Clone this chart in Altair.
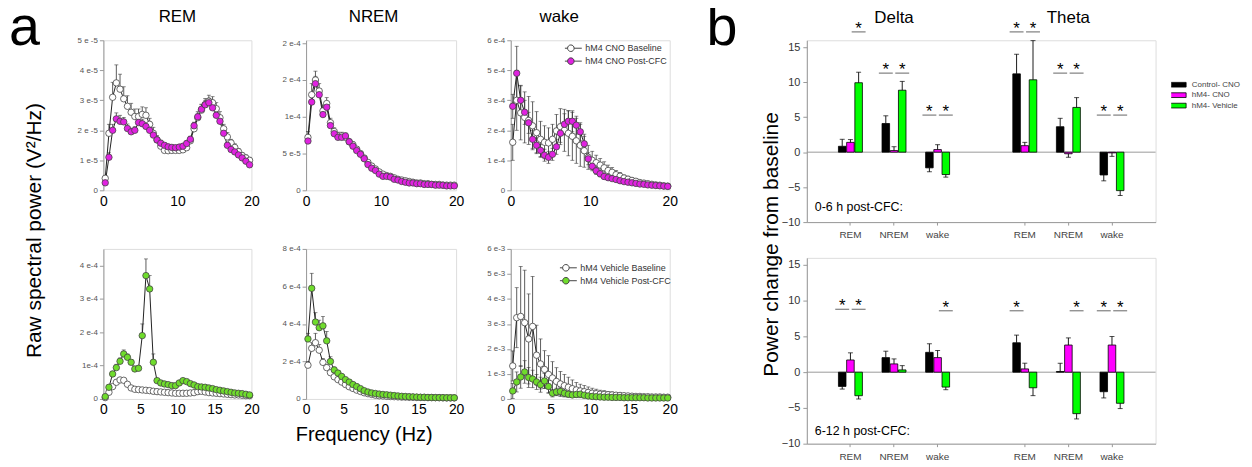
import altair as alt
import pandas as pd

FONT = "Liberation Sans"

# ---------------- panel a : spectra ----------------
FREQ = [0.25, 0.75, 1.25, 1.75, 2.25, 2.75, 3.25, 3.75, 4.25, 4.75,
        5.25, 5.75, 6.25, 6.75, 7.25, 7.75, 8.25, 8.75, 9.25, 9.75,
        10.25, 10.75, 11.25, 11.75, 12.25, 12.75, 13.25, 13.75, 14.25, 14.75,
        15.25, 15.75, 16.25, 16.75, 17.25, 17.75, 18.25, 18.75, 19.25, 19.75]

CNO_NAMES = ["hM4 CNO Baseline", "hM4 CNO Post-CFC"]
VEH_NAMES = ["hM4 Vehicle Baseline", "hM4 Vehicle Post-CFC"]

# REM, CNO (units of 1e-5 V^2/Hz)
REM_CNO_BASE = [0.4, 1.9, 3.1, 3.58, 3.37, 3.05, 2.8, 2.6, 2.46, 2.46, 2.53, 2.5, 2.2, 1.9, 1.68, 1.47, 1.33, 1.32, 1.33, 1.33,
                1.33, 1.35, 1.42, 1.65, 2.05, 2.42, 2.67, 2.86, 2.97, 2.92, 2.72, 2.42, 2.05, 1.78, 1.58, 1.43, 1.29, 1.16, 1.08, 1.0]
REM_CNO_BASE_ERR = [0.1, 0.3, 0.5, 0.6, 0.5, 0.4, 0.35, 0.3, 0.25, 0.25, 0.25, 0.25, 0.2, 0.2, 0.15, 0.15, 0.12, 0.12, 0.12, 0.12,
                    0.12, 0.12, 0.15, 0.15, 0.2, 0.2, 0.2, 0.2, 0.2, 0.2, 0.2, 0.2, 0.15, 0.15, 0.12, 0.12, 0.1, 0.1, 0.1, 0.1]
REM_CNO_POST = [0.25, 1.1, 2.0, 2.38, 2.3, 2.28, 2.06, 1.95, 2.0, 2.26, 2.22, 2.13, 2.0, 1.84, 1.68, 1.57, 1.5, 1.45, 1.43, 1.42,
                1.44, 1.47, 1.56, 1.7, 2.15, 2.45, 2.7, 2.85, 2.92, 2.75, 2.5, 2.3, 1.9, 1.5, 1.36, 1.28, 1.18, 1.08, 0.97, 0.85]
REM_CNO_POST_ERR = [0.05, 0.15, 0.2, 0.2, 0.2, 0.15, 0.15, 0.12, 0.12, 0.15, 0.15, 0.12, 0.12, 0.1, 0.1, 0.1, 0.08, 0.08, 0.08, 0.08,
                    0.08, 0.08, 0.1, 0.1, 0.12, 0.12, 0.15, 0.15, 0.15, 0.15, 0.12, 0.12, 0.1, 0.1, 0.08, 0.08, 0.08, 0.06, 0.06, 0.06]

# NREM, CNO (units of 1e-4)
NREM_CNO_BASE = [0.72, 1.3, 1.5, 1.35, 1.08, 1.18, 0.92, 0.8, 0.74, 0.74, 0.72, 0.66, 0.62, 0.56, 0.5, 0.44, 0.38, 0.33, 0.29, 0.25,
                 0.22, 0.2, 0.19, 0.17, 0.15, 0.14, 0.13, 0.12, 0.11, 0.1, 0.1, 0.09, 0.09, 0.08, 0.08, 0.08, 0.07, 0.07, 0.07, 0.07]
NREM_CNO_BASE_ERR = [0.08, 0.15, 0.12, 0.1, 0.08, 0.08, 0.06, 0.05, 0.05, 0.05, 0.04, 0.04, 0.04, 0.03, 0.03, 0.03, 0.02, 0.02, 0.02, 0.02,
                     0.02, 0.02, 0.015, 0.015, 0.015, 0.01, 0.01, 0.01, 0.01, 0.01, 0.01, 0.01, 0.01, 0.01, 0.01, 0.01, 0.01, 0.01, 0.01, 0.01]
NREM_CNO_POST = [0.67, 1.2, 1.45, 1.3, 1.03, 1.13, 0.88, 0.77, 0.72, 0.72, 0.74, 0.66, 0.6, 0.54, 0.49, 0.43, 0.35, 0.3, 0.27, 0.22,
                 0.19, 0.19, 0.18, 0.15, 0.14, 0.12, 0.11, 0.1, 0.1, 0.09, 0.09, 0.08, 0.08, 0.08, 0.07, 0.07, 0.07, 0.06, 0.06, 0.06]
NREM_CNO_POST_ERR = [0.05, 0.1, 0.1, 0.08, 0.06, 0.06, 0.05, 0.04, 0.04, 0.04, 0.04, 0.03, 0.03, 0.03, 0.02, 0.02, 0.02, 0.02, 0.02, 0.02,
                     0.015, 0.015, 0.015, 0.01, 0.01, 0.01, 0.01, 0.01, 0.01, 0.01, 0.01, 0.01, 0.01, 0.01, 0.01, 0.01, 0.01, 0.01, 0.01, 0.01]

# wake, CNO (in axis-tick units, ticks labelled 0, 1e-4, 2e-4, 3e-4, 5e-4, 6e-4)
WAKE_CNO_BASE = [1.6, 3.0, 2.58, 2.43, 2.33, 2.15, 1.92, 1.7, 1.6, 1.58, 1.7, 1.98, 2.12, 2.0, 1.9, 1.8, 1.65, 1.5, 1.32, 1.1,
                 1.0, 0.92, 0.84, 0.75, 0.66, 0.6, 0.52, 0.47, 0.41, 0.37, 0.33, 0.3, 0.26, 0.24, 0.22, 0.2, 0.18, 0.17, 0.15, 0.14]
WAKE_CNO_BASE_ERR = [0.6, 1.0, 0.9, 0.85, 0.8, 0.8, 0.7, 0.6, 0.55, 0.5, 0.5, 0.55, 0.6, 0.7, 0.75, 0.8, 0.75, 0.7, 0.55, 0.4,
                     0.3, 0.25, 0.22, 0.2, 0.18, 0.16, 0.14, 0.12, 0.1, 0.1, 0.09, 0.08, 0.07, 0.06, 0.06, 0.05, 0.05, 0.05, 0.04, 0.04]
WAKE_CNO_POST = [2.8, 3.9, 3.0, 2.6, 2.25, 1.7, 1.5, 1.33, 1.17, 1.1, 1.2, 1.45, 1.9, 2.2, 2.3, 2.3, 2.17, 1.95, 1.55, 1.05,
                 0.8, 0.65, 0.55, 0.46, 0.42, 0.39, 0.36, 0.32, 0.29, 0.27, 0.25, 0.23, 0.21, 0.2, 0.18, 0.17, 0.16, 0.15, 0.14, 0.13]
WAKE_CNO_POST_ERR = [0.4, 0.9, 0.5, 0.4, 0.35, 0.3, 0.25, 0.2, 0.2, 0.2, 0.2, 0.25, 0.3, 0.35, 0.35, 0.35, 0.3, 0.3, 0.25, 0.2,
                     0.15, 0.12, 0.1, 0.08, 0.07, 0.06, 0.06, 0.05, 0.05, 0.04, 0.04, 0.04, 0.03, 0.03, 0.03, 0.03, 0.03, 0.02, 0.02, 0.02]

# REM, Vehicle (units of 1e-4)
REM_VEH_BASE = [0.04, 0.2, 0.37, 0.5, 0.57, 0.56, 0.44, 0.33, 0.29, 0.28, 0.27, 0.26, 0.25, 0.23, 0.22, 0.21, 0.2, 0.19, 0.18, 0.17,
                0.17, 0.17, 0.17, 0.18, 0.19, 0.22, 0.23, 0.21, 0.19, 0.18, 0.17, 0.16, 0.15, 0.14, 0.13, 0.12, 0.12, 0.11, 0.1, 0.1]
REM_VEH_BASE_ERR = [0.01, 0.03, 0.05, 0.06, 0.06, 0.05, 0.04, 0.03, 0.03, 0.03, 0.03, 0.03, 0.02, 0.02, 0.02, 0.02, 0.02, 0.02, 0.02, 0.02,
                    0.02, 0.02, 0.02, 0.02, 0.02, 0.02, 0.02, 0.02, 0.02, 0.02, 0.02, 0.02, 0.01, 0.01, 0.01, 0.01, 0.01, 0.01, 0.01, 0.01]
REM_VEH_POST = [0.07, 0.35, 0.75, 0.94, 1.13, 1.35, 1.25, 1.1, 0.9, 0.92, 1.9, 3.7, 3.3, 1.1, 0.55, 0.48, 0.45, 0.43, 0.4, 0.4,
                0.48, 0.55, 0.52, 0.46, 0.42, 0.37, 0.36, 0.35, 0.33, 0.31, 0.28, 0.26, 0.24, 0.22, 0.2, 0.18, 0.17, 0.16, 0.14, 0.12]
REM_VEH_POST_ERR = [0.02, 0.05, 0.08, 0.1, 0.1, 0.12, 0.1, 0.08, 0.07, 0.08, 0.35, 0.5, 0.4, 0.25, 0.06, 0.05, 0.05, 0.04, 0.04, 0.04,
                    0.05, 0.05, 0.05, 0.04, 0.04, 0.04, 0.04, 0.03, 0.03, 0.03, 0.03, 0.03, 0.02, 0.02, 0.02, 0.02, 0.02, 0.02, 0.02, 0.02]

# NREM, Vehicle (units of 1e-4)
NREM_VEH_BASE = [1.8, 2.7, 3.0, 2.6, 1.95, 1.67, 1.4, 1.18, 1.03, 0.9, 0.77, 0.65, 0.56, 0.47, 0.4, 0.33, 0.28, 0.24, 0.2, 0.17,
                 0.16, 0.14, 0.13, 0.12, 0.11, 0.1, 0.1, 0.09, 0.09, 0.08, 0.08, 0.08, 0.07, 0.07, 0.07, 0.07, 0.06, 0.06, 0.06, 0.06]
NREM_VEH_BASE_ERR = [0.2, 0.3, 0.5, 0.3, 0.2, 0.15, 0.12, 0.1, 0.1, 0.08, 0.07, 0.06, 0.05, 0.05, 0.04, 0.04, 0.03, 0.03, 0.03, 0.02,
                     0.02, 0.02, 0.02, 0.02, 0.02, 0.02, 0.02, 0.02, 0.02, 0.02, 0.02, 0.02, 0.02, 0.02, 0.02, 0.02, 0.02, 0.02, 0.02, 0.02]
NREM_VEH_POST = [3.2, 5.9, 4.1, 3.8, 3.9, 3.1, 2.0, 1.55, 1.38, 1.2, 1.03, 0.9, 0.77, 0.66, 0.55, 0.44, 0.37, 0.32, 0.29, 0.26,
                 0.24, 0.22, 0.2, 0.18, 0.16, 0.14, 0.13, 0.12, 0.11, 0.1, 0.09, 0.09, 0.08, 0.08, 0.07, 0.07, 0.07, 0.06, 0.06, 0.06]
NREM_VEH_POST_ERR = [0.3, 0.8, 0.5, 0.4, 0.5, 0.5, 0.25, 0.15, 0.12, 0.1, 0.08, 0.07, 0.06, 0.05, 0.05, 0.04, 0.04, 0.03, 0.03, 0.03,
                     0.03, 0.03, 0.02, 0.02, 0.02, 0.02, 0.02, 0.02, 0.02, 0.02, 0.02, 0.02, 0.02, 0.02, 0.02, 0.02, 0.02, 0.02, 0.02, 0.02]

# wake, Vehicle (units of 1e-3)
WAKE_VEH_BASE = [1.32, 3.25, 3.3, 3.05, 2.4, 2.9, 1.75, 1.4, 1.18, 0.98, 0.84, 0.7, 0.6, 0.53, 0.47, 0.41, 0.36, 0.32, 0.29, 0.26,
                 0.23, 0.21, 0.19, 0.18, 0.17, 0.16, 0.15, 0.14, 0.13, 0.12, 0.11, 0.1, 0.1, 0.09, 0.09, 0.08, 0.08, 0.08, 0.07, 0.07]
WAKE_VEH_BASE_ERR = [0.6, 1.2, 2.0, 2.1, 1.8, 2.0, 1.2, 1.0, 0.75, 0.75, 0.65, 0.55, 0.5, 0.45, 0.4, 0.35, 0.3, 0.27, 0.25, 0.22,
                     0.2, 0.18, 0.16, 0.15, 0.13, 0.12, 0.1, 0.1, 0.09, 0.08, 0.08, 0.07, 0.07, 0.06, 0.06, 0.05, 0.05, 0.05, 0.05, 0.05]
WAKE_VEH_POST = [0.32, 0.68, 0.88, 1.08, 0.86, 0.8, 0.68, 0.57, 0.72, 0.5, 0.23, 0.28, 0.3, 0.23, 0.19, 0.16, 0.18, 0.19, 0.15, 0.12,
                 0.1, 0.09, 0.08, 0.07, 0.07, 0.06, 0.06, 0.06, 0.05, 0.05, 0.05, 0.05, 0.05, 0.05, 0.04, 0.04, 0.04, 0.04, 0.04, 0.04]
WAKE_VEH_POST_ERR = [0.3, 0.4, 0.45, 0.45, 0.4, 0.35, 0.3, 0.3, 0.3, 0.25, 0.15, 0.15, 0.15, 0.12, 0.1, 0.1, 0.1, 0.1, 0.08, 0.06,
                     0.05, 0.05, 0.04, 0.04, 0.03, 0.03, 0.03, 0.03, 0.03, 0.03, 0.03, 0.03, 0.03, 0.03, 0.03, 0.03, 0.03, 0.03, 0.03, 0.03]

# y tick values / labels as printed in the figure
REM_TOP_TICKS = [0, 1, 2, 3, 4, 5]
REM_TOP_LABELS = ["0", "1 e-5", "2 e -5", "3 e-5", "4 e-5", "5 e -5"]
NREM_TOP_TICKS = [0, 0.5, 1, 1.5, 2]
NREM_TOP_LABELS = ["0", "5 e-5", "1e-4", "2 e-4", "2 e-4"]
WAKE_TOP_TICKS = [0, 1, 2, 3, 4, 5]
WAKE_TOP_LABELS = ["0", "1 e-4", "2 e-4", "3 e-4", "5 e-4", "6 e-4"]
REM_BOT_TICKS = [0, 1, 2, 3, 4]
REM_BOT_LABELS = ["0", "1e-4", "2 e-4", "3 e-4", "4 e-4"]
NREM_BOT_TICKS = [0, 2, 4, 6, 8]
NREM_BOT_LABELS = ["0", "2 e-4", "4 e-4", "6 e-4", "8 e-4"]
WAKE_BOT_TICKS = [0, 1, 2, 3, 4, 5, 6]
WAKE_BOT_LABELS = ["0", "1 e-3", "2 e-3", "3 e-3", "4 e-3", "5 e-3", "6 e-3"]
X_TICKS = [0, 5, 10, 15, 20]

# ---------------- panel b : bars ----------------
CATS = ["Delta REM", "Delta NREM", "Delta wake", "Theta REM", "Theta NREM", "Theta wake"]
X_DOMAIN = ["Delta REM", "Delta NREM", "Delta wake", "gap", "Theta REM", "Theta NREM", "Theta wake"]
GROUPS = ["Control- CNO", "hM4- CNO", "hM4- Vehicle"]
BAR_COLORS = ["#000000", "#ff00ff", "#00ff00"]

CTRL_06 = [0.84, 4.1, -2.24, 11.2, 3.64, -3.26]
CTRL_06_ERR = [1.0, 1.1, 0.56, 2.8, 1.2, 0.84]
HCNO_06 = [1.4, 0.23, 0.37, 0.93, -0.23, -0.1]
HCNO_06_ERR = [0.4, 0.55, 0.7, 0.47, 0.5, 0.5]
HVEH_06 = [9.93, 8.86, -3.2, 10.35, 6.4, -5.5]
HVEH_06_ERR = [1.5, 1.26, 0.37, 5.6, 1.4, 0.7]

CTRL_612 = [-1.99, 2.04, 2.78, 4.12, 0.1, -2.73]
CTRL_612_ERR = [0.37, 0.9, 1.2, 1.07, 1.15, 0.87]
HCNO_612 = [1.71, 1.16, 2.04, 0.46, 3.8, 3.8]
HCNO_612_ERR = [1.0, 0.7, 1.0, 0.8, 1.0, 1.2]
HVEH_612 = [-3.29, 0.32, -2.08, -2.18, -5.8, -4.35]
HVEH_612_ERR = [0.46, 0.6, 0.37, 1.1, 0.74, 0.74]

SIG_06_CAT = ["Delta REM", "Delta NREM", "Delta NREM", "Delta wake", "Delta wake",
              "Theta REM", "Theta REM", "Theta NREM", "Theta NREM", "Theta wake", "Theta wake"]
SIG_06_GROUP = ["hM4- Vehicle", "Control- CNO", "hM4- Vehicle", "Control- CNO", "hM4- Vehicle",
                "Control- CNO", "hM4- Vehicle", "Control- CNO", "hM4- Vehicle", "Control- CNO", "hM4- Vehicle"]
SIG_06_Y = [17.2, 11.3, 11.3, 5.3, 5.3, 17.2, 17.2, 11.3, 11.3, 5.3, 5.3]

SIG_612_CAT = ["Delta REM", "Delta REM", "Delta wake", "Theta REM", "Theta NREM", "Theta wake", "Theta wake"]
SIG_612_GROUP = ["Control- CNO", "hM4- Vehicle", "hM4- Vehicle", "Control- CNO", "hM4- Vehicle", "Control- CNO", "hM4- Vehicle"]
SIG_612_Y = [8.8, 8.8, 8.6, 8.6, 8.6, 8.6, 8.6]

BAR_TICKS = [-10, -5, 0, 5, 10, 15]

for arr in [REM_CNO_BASE, REM_CNO_BASE_ERR, REM_CNO_POST, REM_CNO_POST_ERR, NREM_CNO_BASE, NREM_CNO_BASE_ERR,
            NREM_CNO_POST, NREM_CNO_POST_ERR, WAKE_CNO_BASE, WAKE_CNO_BASE_ERR, WAKE_CNO_POST, WAKE_CNO_POST_ERR,
            REM_VEH_BASE, REM_VEH_BASE_ERR, REM_VEH_POST, REM_VEH_POST_ERR, NREM_VEH_BASE, NREM_VEH_BASE_ERR,
            NREM_VEH_POST, NREM_VEH_POST_ERR, WAKE_VEH_BASE, WAKE_VEH_BASE_ERR, WAKE_VEH_POST, WAKE_VEH_POST_ERR]:
    assert len(arr) == len(FREQ), len(arr)


def label_expr(vals, labels):
    expr = "''"
    for v, l in reversed(list(zip(vals, labels))):
        expr = f"datum.value == {v} ? '{l}' : ({expr})"
    return expr


# legend glyph: line with a circle in the middle (drawn beyond the unit box so rows stay compact)
LEG_PATH = "M-2,0L-0.6,0M0.6,0L2,0M-0.6,0A0.6,0.6,0,1,1,0.6,0A0.6,0.6,0,1,1,-0.6,0Z"
BAR_LEG_PATH = "M-2,-0.5L2,-0.5L2,0.5L-2,0.5Z"
PANEL_LABEL_SIZE = 56


def spectrum(base, base_err, post, post_err, names, post_fill, ymax, ticks, labels, width, height,
             sym=False, title=None, title_x=10, legend_xy=None, y_axis_title=None, x_axis_title=None, extra=None):
    rows = []
    for name, vals, errs in ((names[0], base, base_err), (names[1], post, post_err)):
        for f, v, e in zip(FREQ, vals, errs):
            rows.append({"freq": f, "value": v, "lo": (v - e) if sym else v, "hi": v + e, "series": name})
    df = pd.DataFrame(rows)

    yaxis_kw = dict(values=ticks, labelExpr=label_expr(ticks, labels), labelFontSize=8, labelColor="#555",
                    labelFont=FONT, tickSize=4, tickColor="#999", domainColor="#999", grid=False, labelPadding=2,
                    labelOverlap=False)
    if y_axis_title:
        yaxis_kw.update(y_axis_title)
    else:
        yaxis_kw["title"] = None
    xaxis_kw = dict(values=X_TICKS, labelFontSize=14, labelColor="black", labelFont=FONT, domain=False,
                    ticks=False, grid=False, labelPadding=4, labelFlush=False, labelOverlap=False)
    if x_axis_title:
        xaxis_kw.update(x_axis_title)
    else:
        xaxis_kw["title"] = None
    YA = alt.Axis(**yaxis_kw)
    XA = alt.Axis(**xaxis_kw)

    xs = alt.Scale(domain=[0, 20], nice=False)
    ys = alt.Scale(domain=[0, ymax], nice=False)
    X = alt.X("freq:Q", scale=xs, axis=XA)

    base_chart = alt.Chart(df)
    err = base_chart.mark_rule(color="#333", strokeWidth=0.8).encode(
        x=X, y=alt.Y("lo:Q", scale=ys, axis=YA), y2="hi:Q")
    cap_hi = base_chart.mark_tick(orient="horizontal", size=4, thickness=0.8, color="#333").encode(
        x=X, y=alt.Y("hi:Q", scale=ys, axis=YA))
    layers = [err, cap_hi]
    if sym:
        layers.append(base_chart.mark_tick(orient="horizontal", size=4, thickness=0.8, color="#333").encode(
            x=X, y=alt.Y("lo:Q", scale=ys, axis=YA)))
    line = base_chart.mark_line(color="#222", strokeWidth=1).encode(
        x=X, y=alt.Y("value:Q", scale=ys, axis=YA), detail="series:N")
    if legend_xy:
        leg = alt.Legend(orient="none", legendX=legend_xy[0], legendY=legend_xy[1], title=None,
                         symbolType=LEG_PATH, symbolSize=121, symbolStrokeColor="#444", symbolStrokeWidth=1,
                         labelFontSize=9, labelColor="#333", labelFont=FONT, rowPadding=2, labelOffset=8.5,
                         clipHeight=11)
    else:
        leg = None
    pts = base_chart.mark_point(filled=True, size=42, stroke="#444", strokeWidth=0.8, opacity=1).encode(
        x=X, y=alt.Y("value:Q", scale=ys, axis=YA),
        fill=alt.Fill("series:N", scale=alt.Scale(domain=names, range=["#ffffff", post_fill]), legend=leg,
                      sort=names))
    layers += [line, pts]
    if title:
        layers.append(alt.Chart(pd.DataFrame({"t": [title]})).mark_text(
            fontSize=17, font=FONT, baseline="middle", color="black").encode(
            text="t:N", x=alt.datum(title_x), y=alt.value(-23)))
    if extra is not None:
        layers.append(extra)
    return alt.layer(*layers).properties(width=width, height=height)


label_a = alt.Chart(pd.DataFrame({"t": ["a"]})).mark_text(
    fontSize=PANEL_LABEL_SIZE, font=FONT, align="left", baseline="alphabetic", color="black").encode(
    text="t:N", x=alt.value(-95), y=alt.value(5))

MAGENTA_PT = "#e022e0"
GREEN_PT = "#6fdc2c"

p1 = spectrum(REM_CNO_BASE, REM_CNO_BASE_ERR, REM_CNO_POST, REM_CNO_POST_ERR, CNO_NAMES, MAGENTA_PT, 5,
              REM_TOP_TICKS, REM_TOP_LABELS, 149, 151, title="REM", title_x=10,
              y_axis_title=dict(title="Raw spectral power (V²/Hz)", titleFontSize=21, titleFont=FONT,
                                titleFontWeight="normal", titleColor="black", titleX=-69, titleY=191,
                                titleAlign="center", titleBaseline="middle", titleAngle=270),
              extra=label_a)
p2 = spectrum(NREM_CNO_BASE, NREM_CNO_BASE_ERR, NREM_CNO_POST, NREM_CNO_POST_ERR, CNO_NAMES, MAGENTA_PT, 2.04,
              NREM_TOP_TICKS, NREM_TOP_LABELS, 151, 151, title="NREM", title_x=9.0)
p3 = spectrum(WAKE_CNO_BASE, WAKE_CNO_BASE_ERR, WAKE_CNO_POST, WAKE_CNO_POST_ERR, CNO_NAMES, MAGENTA_PT, 5,
              WAKE_TOP_TICKS, WAKE_TOP_LABELS, 160, 151, sym=True, title="wake", title_x=6.1,
              legend_xy=(54.5, 2.5))
q1 = spectrum(REM_VEH_BASE, REM_VEH_BASE_ERR, REM_VEH_POST, REM_VEH_POST_ERR, VEH_NAMES, GREEN_PT, 4.5,
              REM_BOT_TICKS, REM_BOT_LABELS, 149, 151)
q2 = spectrum(NREM_VEH_BASE, NREM_VEH_BASE_ERR, NREM_VEH_POST, NREM_VEH_POST_ERR, VEH_NAMES, GREEN_PT, 8,
              NREM_BOT_TICKS, NREM_BOT_LABELS, 151, 151,
              x_axis_title=dict(title="Frequency (Hz)", titleFontSize=20, titleFont=FONT, titleFontWeight="normal",
                                titleColor="black", titleX=58, titleY=36, titleAlign="center",
                                titleBaseline="middle"))
q3 = spectrum(WAKE_VEH_BASE, WAKE_VEH_BASE_ERR, WAKE_VEH_POST, WAKE_VEH_POST_ERR, VEH_NAMES, GREEN_PT, 6,
              WAKE_BOT_TICKS, WAKE_BOT_LABELS, 160, 151, sym=True, legend_xy=(49.5, 13.5))


def bars(ctrl, ctrl_e, hcno, hcno_e, hveh, hveh_e, sig_cat, sig_group, sig_y, period_text, period_y, height,
         top=False):
    rows = []
    for g, vals, errs in zip(GROUPS, (ctrl, hcno, hveh), (ctrl_e, hcno_e, hveh_e)):
        for c, v, e in zip(CATS, vals, errs):
            rows.append({"cat": c, "group": g, "value": v, "end": v + e if v >= 0 else v - e})
    df = pd.DataFrame(rows)
    sig = pd.DataFrame({"cat": sig_cat, "group": sig_group, "y": sig_y, "star": ["*"] * len(sig_y)})

    xs = alt.Scale(domain=X_DOMAIN, paddingInner=0.45, paddingOuter=0.725)
    offs = alt.Scale(domain=GROUPS, paddingInner=0.08)
    ys = alt.Scale(domain=[-10, 16], nice=False)
    yaxis_kw = dict(values=BAR_TICKS, labelFontSize=11, labelColor="#333", labelFont=FONT, tickSize=4,
                    tickColor="#999", domainColor="#999", grid=False, labelPadding=3, labelOverlap=False)
    if top:
        yaxis_kw.update(title="Power change from baseline", titleFontSize=21, titleFont=FONT,
                        titleFontWeight="normal", titleColor="black", titleX=-36, titleY=205,
                        titleAlign="center", titleBaseline="middle", titleAngle=270)
    else:
        yaxis_kw["title"] = None
    YA = alt.Axis(**yaxis_kw)
    XA = alt.Axis(values=CATS, labelExpr="split(datum.value, ' ')[1]", labelFontSize=10, labelColor="#444",
                  labelFont=FONT, tickSize=3, tickColor="#999", domainColor="#999", title=None, labelAngle=0,
                  labelPadding=5, grid=False, labelOverlap=False)
    X = alt.X("cat:N", scale=xs, axis=XA, sort=X_DOMAIN)
    XO = alt.XOffset("group:N", scale=offs, sort=GROUPS)
    if top:
        leg = alt.Legend(orient="none", legendX=366.75, legendY=40.25, title=None,
                         symbolType=BAR_LEG_PATH, symbolSize=90.25,
                         symbolStrokeColor="black", symbolStrokeWidth=0.8, labelFontSize=8, labelColor="#444",
                         labelFont=FONT, rowPadding=1.5, labelOffset=9.75, clipHeight=9)
    else:
        leg = None

    zero = alt.Chart(pd.DataFrame({"z": [0]})).mark_rule(color="#999", strokeWidth=1).encode(
        y=alt.Y("z:Q", scale=ys, axis=YA))
    b = alt.Chart(df).mark_bar(stroke="black", strokeWidth=0.8).encode(
        x=X, xOffset=XO, y=alt.Y("value:Q", scale=ys, axis=YA),
        color=alt.Color("group:N", scale=alt.Scale(domain=GROUPS, range=BAR_COLORS), legend=leg, sort=GROUPS))
    eb = alt.Chart(df).mark_rule(color="black", strokeWidth=0.9).encode(
        x=X, xOffset=XO, y=alt.Y("value:Q", scale=ys, axis=YA), y2="end:Q")
    cap = alt.Chart(df).mark_tick(orient="horizontal", size=5, thickness=1, color="black").encode(
        x=X, xOffset=XO, y=alt.Y("end:Q", scale=ys, axis=YA))
    sline = alt.Chart(sig).mark_tick(orient="horizontal", size=14, thickness=1.3, color="#555").encode(
        x=X, xOffset=XO, y=alt.Y("y:Q", scale=ys, axis=YA))
    stext = alt.Chart(sig).mark_text(fontSize=17, font=FONT, baseline="alphabetic", dy=2, color="black").encode(
        x=X, xOffset=XO, y=alt.Y("y:Q", scale=ys, axis=YA), text="star:N")
    period = alt.Chart(pd.DataFrame({"t": [period_text], "y": [period_y]})).mark_text(
        fontSize=12.5, font=FONT, align="left", baseline="middle", color="black").encode(
        x=alt.value(8), y=alt.Y("y:Q", scale=ys, axis=YA), text="t:N")
    layers = [zero, b, eb, cap, sline, stext, period]
    if top:
        heads = alt.Chart(pd.DataFrame({"cat": ["Delta NREM", "Theta NREM"], "t": ["Delta", "Theta"]})).mark_text(
            fontSize=17, font=FONT, baseline="middle", color="black").encode(
            x=X, y=alt.value(-22), text="t:N")
        lab_b = alt.Chart(pd.DataFrame({"t": ["b"]})).mark_text(
            fontSize=PANEL_LABEL_SIZE, font=FONT, align="left", baseline="alphabetic", color="black").encode(
            text="t:N", x=alt.value(-101), y=alt.value(5))
        layers += [heads, lab_b]
    return alt.layer(*layers).properties(width=351, height=height)


b1 = bars(CTRL_06, CTRL_06_ERR, HCNO_06, HCNO_06_ERR, HVEH_06, HVEH_06_ERR, SIG_06_CAT, SIG_06_GROUP, SIG_06_Y,
          "0-6 h post-CFC:", -7.8, 183, top=True)
b2 = bars(CTRL_612, CTRL_612_ERR, HCNO_612, HCNO_612_ERR, HVEH_612, HVEH_612_ERR, SIG_612_CAT, SIG_612_GROUP,
          SIG_612_Y, "6-12 h post-CFC:", -8.2, 187)


def indep(c):
    return c.resolve_scale(fill="independent", color="independent").resolve_legend(
        fill="independent", color="independent")


A = indep(alt.concat(p1, p2, p3, q1, q2, q3, columns=3, spacing={"row": 59, "column": 55}, bounds="flush"))
B = indep(alt.vconcat(b1, b2, spacing=36, bounds="flush"))
chart = indep(alt.hconcat(A, B, spacing=27)).properties(
    padding={"left": 0, "top": -10, "right": 2, "bottom": 2}, background="white"
).configure_view(stroke=None).configure(font=FONT)

chart.save("out.html", embed_options={"renderer": "svg", "actions": False})
